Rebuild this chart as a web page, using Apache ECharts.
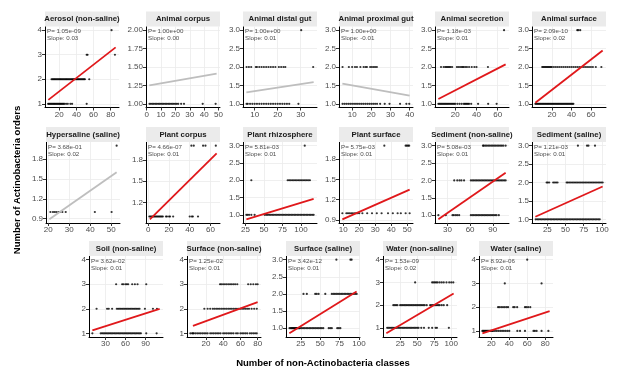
<!DOCTYPE html>
<html><head><meta charset="utf-8">
<script src="https://cdn.jsdelivr.net/npm/echarts@6/dist/echarts.min.js"></script>
<style>html,body{margin:0;padding:0;background:#fff}#c{width:617px;height:380px}</style>
</head><body><div id="c"></div>
<script>
const panelNames = ['Aerosol (non-saline)','Animal corpus','Animal distal gut','Animal proximal gut','Animal secretion','Animal surface',
  'Hypersaline (saline)','Plant corpus','Plant rhizosphere','Plant surface','Sediment (non-saline)','Sediment (saline)',
  'Soil (non-saline)','Surface (non-saline)','Surface (saline)','Water (non-saline)','Water (saline)'];
const pValues = ['1.05e-09','1.00e+00','1.00e+00','1.00e+00','1.18e-03','2.09e-10','3.68e-01','4.66e-07','5.81e-03','5.75e-03',
  '5.08e-03','1.21e-03','3.62e-02','1.25e-02','3.42e-12','1.53e-09','8.92e-06'];
const slopes = ['0.03','0.00','0.01','-0.01','0.01','0.02','0.02','0.01','0.01','0.01','0.01','0.01','0.01','0.01','0.01','0.02','0.01'];

const xTickLabels = [['20','40','60','80'],['0','10','20','30','40','50'],['10','20','30'],['10','20','30','40'],['20','40','60'],['20','40','60'],
  ['20','30','40','50'],['0','20','40','60'],['25','50','75','100'],['10','20','30','40','50'],['30','60','90'],['25','50','75','100'],
  ['30','60','90'],['20','40','60','80'],['25','50','75','100'],['25','50','75','100'],['20','40','60','80']];
const y4 = ['1','2','3','4'], y3 = ['1.0','1.5','2.0','2.5','3.0'], y09 = ['0.9','1.2','1.5','1.8'];
const yTickLabels = [y4,['1.00','1.25','1.50','1.75','2.00'],y3,y3,y3,y3,y09,['1.2','1.5','1.8'],y3,y09,y3,y3,y4,y4,y3,y4,y4];

const xExtents = [[7.3,85.8],[1.9,48.7],[6.4,35.6],[4.9,40],[4,67.5],[3,72],[20.5,52.6],[1,66],[26.3,117],[9.5,51.5],
  [18,107],[8.5,101],[10.5,111],[2,80],[10.3,97],[4.8,103.5],[10,85]];
const yExtents = [[1,4],[1,2],[1,3],[1,3],[1,3],[1,3],[0.89,2],[0.96,2],[0.87,3],[0.91,2],[0.88,3],[1,3],[1,4],[1,4],[0.85,3],[0.76,4],[0.9,4]];

const fitX = [[7.3,85.8],[1.9,48.7],[6.4,35.6],[4.9,40],[4,67.5],[3,72],[20.5,52.6],[1.5,66],[26.3,117],[9.5,51.5],
  [18,107],[8.5,101],[10.5,111],[5,80],[10.3,97],[4.8,103.5],[10,85]];
const fitY = [[1.16,3.30],[1.25,1.41],[1.31,1.59],[1.55,1.22],[1.13,2.07],[1.03,2.45],[0.89,1.6],[0.96,1.89],[0.87,1.46],[0.91,1.35],
  [0.88,2.22],[1.07,1.89],[1.12,2.0],[1.3,2.27],[0.85,2.07],[0.76,2.51],[0.9,1.83]];

// points: y level -> x values
const ptsAerosol = {1:[7,8,9,10,11,12,13,14,15,16,17,18,19,20,21,22,23,24,25,26,28,30,33,35,52],
  2:[11,12,13,14,15,16,17,18,19,20,21,22,23,24,25,26,27,28,29,30,31,32,33,34,35,36,37,38,39,40,41,42,43,44,45,46,47,48,49,50,55],
  3:[52,53,85], 4:[81]};
const ptsAnimalCorpus = {1:[2,3,4,5,6,7,8,9,10,11,12,13,14,15,16,17,18,19,20,21,22,24,26,39,48]};
const ptsDistalGut = {1:[6.5,7,8,9,10,11,12,13,14,15,16,17,18,19,20,21,22,23,24,25,29],
  2:[6.5,7.5,8.5,10.5,11,12,13,14,15,16,17,18,19,20.5,21.5,22.5,23.3,35.4], 3:[30.2]};
const ptsProximalGut = {1:[5,6,7,8,9,10,11,12,13,14,15,16,17,18,19,20,21,22,23,24.6,27,29.5,35,38.3,39.8],
  2:[5,8.3,10,11.5,12.5,14.3,16,17,17.7,19.4,20.3,21.2,22,22.9]};
const ptsSecretion = {1:[4,5,6,7,8,9,10,11,12,13,14,15,16,17,18,19,20,22,24,26,28,29,30,31,32,33,35,41.5,51,59],
  2:[6.5,9,10.5,11.5,12.5,13.5,14.5,15.5,17,21.5,23,24.5,26,27,28,29.5,31,33,35.5,38,40,50.8], 3:[66]};
const ptsSurface = {1:[3,4,5,6,7,8,9,10,11,12,13,14,15,16,17,18,19,20,21,22,23,24,25,26,27,28,29,30,31,32,33,34,35,36,37,38,39,40,41,42],
  2:[10,11,12,13,14,15,16,17,18,19,20,22,24,26,28,30,32,34,36,38,40,42,44,46,48,50,52,54,56,58,60,62,65,70.7], 3:[46,47,49]};
const ptsHypersaline = {1:[21,22.2,23,23.8,24.8,25.5,26.7,28.3,42.2,50.2], 2:[52.6]};
const ptsPlantCorpus = {1:[1,2,3,4,5,6,7,8,9,10,11,12,13,14,17,18,20,21,24,40,42,43,48], 2:[41.6,43.9,52.9,55.2,65.2]};
const ptsRhizosphere = {1:[26.3,28,30,33,37.4,51,53,55,57,59,61,63,65,67,69,71,73,75,77,79,81,83,85,87,89,91,93,95,97,99,101,103,105,107,109,111,113,115,117],
  2:[33,82,84,86,88,90,92,94,96,98,100,102,104,106,108,110,112], 3:[105]};
const ptsPlantSurface = {1:[9.5,12,13,14,15,16,17,18,19,20,22,25,28,31,34,38,41,44,46,49,51.5], 2:[35.7,49,49.7,50.5,51.2]};
const ptsSedimentNon = {1:[18,27.8,36.7,38.5,41,43,45.5,61,63,65,67,69,71,73,75,77,79,81,83,85,87,89,91,93,95,98],
  2:[39,43,46,48.5,52,61,63,65,67,69,71,73,75,77,79,81,83,85,87,89,91,93,95,97,99,101,103,105,107],
  3:[77,78,80,82,84,86,88,90,92,94,96,98,100,102,104,107]};
const ptsSedimentSal = {1:[9,11,13,15,17,19,21,23,25,27,29,31,33,35,37,39,41,43,45,47,49,51,53,55,57,59,61,63,65,67,69,71,73,75,77,79,81,83,85,87,89,91,93,95,97],
  2:[24,25.5,27.5,33,35,37,39,51.5,53,55,57,59,61,63,65,67,69,71,73,75,77,79,81,83,85,87,89,91,93,95,97,99,101], 3:[67,79.5,81.5,90.5]};
const ptsSoil = {1:[10.5,23,25,27,29,31,33,35,37,39,41,43,45,47,49,51,53,55,57,59,61,63,65,67,69,71,73,75,77,79,81,83,91,106.5],
  2:[16.8,32.5,35,40,47,49,51,53,55,57,59,61,63,65,67,69,71,73,75,77,79,81,89,101,107], 3:[46,55,57,60,62,64,70,74,78,91]};
const ptsSurfaceNon = {1:[2,4,5,6,8,10,12,14,16,18,20,22,25,27,29,31,33,35,37,40,42,44,46,48,50,52,55,57,60,62,64,66,68,71,73,75,77,79],
  2:[18.2,22,25,28,30,32,34,36,38,40,42,44,46,48,50,52,54,56,58,60,62,64,66,68,70,73,76,79],
  3:[36.4,38,40,42,44,46,48,50,52,54,56.4,69,72,75,78,80]};
const ptsSurfaceSal = {1:[10.5,12,13,14,15,16,17,18,19,20,21,22,23,24,26,28,30,32,34,36,38,40,42,44,46,48,50,52,54,61,63,65,72,74,76],
  2:[28.5,32.8,43.6,45.5,48,56.6,65,67,69,71,73,75,77,79,81,83,85,87,89,91,93,95,97], 3:[70.9,89,90.5]};
const ptsWaterNon = {1:[6,8,10,12,14,16,18,20,22,24,26,28,30,32,34,36,38,40,42,44,46,48,50,52,56,60,67,72,77,79,96.5],
  2:[15,17,19,21,25,27,29,31,33,35,37,39,41,43,45,47,49,51,53,55,57,59,61,64,69,71,73,75,77,79,81,83,86,89,94],
  3:[47,72,74,76,78,80,83,86,89,93,97,100,103]};
const ptsWaterSal = {1:[10,11,12,13,14,15,16,17,18,19,20,21,22,24,26,28,30,32,34,36,38,40,49,52,57.5,67,68.5,70.5,76,83.6],
  2:[27.5,29,31,33,35,37,38.7,44.4,46,48.8,57.5,59,61,63.4], 3:[35,76], 4:[60]};

const panelPoints = [ptsAerosol,ptsAnimalCorpus,ptsDistalGut,ptsProximalGut,ptsSecretion,ptsSurface,
  ptsHypersaline,ptsPlantCorpus,ptsRhizosphere,ptsPlantSurface,ptsSedimentNon,ptsSedimentSal,
  ptsSoil,ptsSurfaceNon,ptsSurfaceSal,ptsWaterNon,ptsWaterSal];

// ---------- layout ----------
const FONT = 'Liberation Sans, Arial, Helvetica, sans-serif';
const rowTops = [26.5, 142, 256];
const rowLefts = [[45,146,243,339,435,532],[46,146,243,339,435,532],[89,187,286,383,479]];
const PW = 74, PH = 81, STRIP = 15;
const layout = [];
rowLefts.forEach((ls, r) => ls.forEach(l => layout.push({left: l, top: rowTops[r]})));

function expand(e){ const s = e[1]-e[0]; return [e[0]-0.05*s, e[1]+0.05*s]; }

const grid = [], xAxis = [], yAxis = [], series = [], graphic = [];
panelNames.forEach((name, i) => {
  const L = layout[i];
  grid.push({left: L.left, top: L.top, width: PW, height: PH, containLabel: false});
  const xr = expand(xExtents[i]), yr = expand(yExtents[i]);
  const xv = xTickLabels[i].map(Number), yv = yTickLabels[i].map(Number);
  const fmt = labels => v => { const s = labels.find(t => Math.abs(Number(t)-v) < 1e-9); return s === undefined ? '' : s; };
  const common = {
    type: 'value', gridIndex: i, scale: true,
    axisLine: {show: true, onZero: false, lineStyle: {color: '#000', width: 1}},
    splitLine: {show: true, lineStyle: {color: '#EBEBEB', width: 0.8}},
  };
  xAxis.push(Object.assign({}, common, {
    min: xr[0], max: xr[1],
    axisTick: {show: true, length: 3, lineStyle: {color: '#333'}, customValues: xv},
    axisLabel: {customValues: xv, formatter: fmt(xTickLabels[i]), fontSize: 8, color: '#4D4D4D', margin: 3, fontFamily: FONT}
  }));
  yAxis.push(Object.assign({}, common, {
    min: yr[0], max: yr[1],
    axisTick: {show: true, length: 3, lineStyle: {color: '#333'}, customValues: yv},
    axisLabel: {customValues: yv, formatter: fmt(yTickLabels[i]), fontSize: 8, color: '#4D4D4D', margin: 3, fontFamily: FONT}
  }));
  const pts = [];
  Object.keys(panelPoints[i]).forEach(k => panelPoints[i][k].forEach(x => pts.push([x, Number(k)])));
  series.push({type: 'scatter', xAxisIndex: i, yAxisIndex: i, data: pts, symbolSize: 2.2,
    itemStyle: {color: '#000'}, silent: true, z: 2});
  const sig = parseFloat(pValues[i]) < 0.05;
  series.push({type: 'line', xAxisIndex: i, yAxisIndex: i,
    data: [[fitX[i][0], fitY[i][0]], [fitX[i][1], fitY[i][1]]],
    showSymbol: false, symbol: 'none', silent: true, z: 3,
    lineStyle: {color: sig ? '#E0181B' : '#BEBEBE', width: 1.8}});
  graphic.push({type: 'rect', shape: {x: L.left, y: L.top - STRIP, width: PW, height: STRIP}, style: {fill: '#EBEBEB'}, z: 1});
  graphic.push({type: 'text', z: 10, style: {text: name, x: L.left + PW/2, y: L.top - STRIP/2,
    align: 'center', verticalAlign: 'middle', textAlign: 'center', textVerticalAlign: 'middle',
    fontSize: 7.8, fontWeight: 'bold', fontFamily: FONT, fill: '#1A1A1A'}});
  graphic.push({type: 'text', z: 10, style: {text: 'P= ' + pValues[i] + '\nSlope: ' + slopes[i], x: L.left + 2, y: L.top + 1.5,
    align: 'left', verticalAlign: 'top', textAlign: 'left', textVerticalAlign: 'top', lineHeight: 7,
    fontSize: 6.2, fontFamily: FONT, fill: '#4D4D4D'}});
});
graphic.push({type: 'text', z: 10, style: {text: 'Number of non-Actinobacteria classes', x: 323, y: 363,
  align: 'center', verticalAlign: 'middle', textAlign: 'center', textVerticalAlign: 'middle',
  fontSize: 9.5, fontWeight: 'bold', fontFamily: FONT, fill: '#000'}});
graphic.push({type: 'text', z: 10, rotation: Math.PI/2, x: 17, y: 180, style: {text: 'Number of Actinobacteria orders', x: 0, y: 0,
  align: 'center', verticalAlign: 'middle', textAlign: 'center', textVerticalAlign: 'middle',
  fontSize: 9.5, fontWeight: 'bold', fontFamily: FONT, fill: '#000'}});

const chart = echarts.init(document.getElementById('c'), null, {renderer: 'canvas'});
chart.setOption({animation: false, backgroundColor: '#fff', grid, xAxis, yAxis, series, graphic});
</script></body></html>
